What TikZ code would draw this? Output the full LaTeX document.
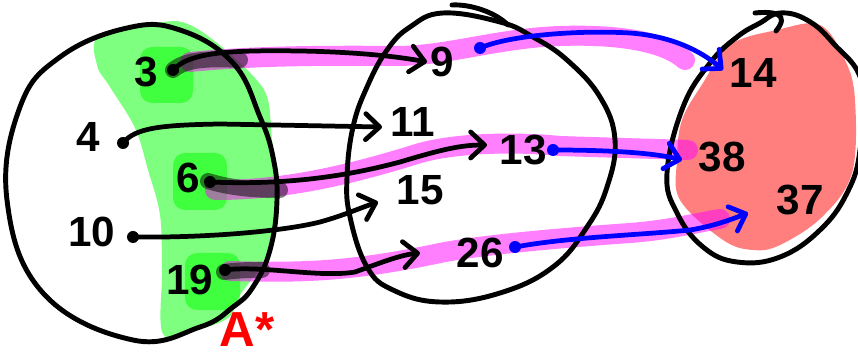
\documentclass[tikz,border=0pt]{standalone}
\usepackage{fontspec}
\setmainfont{Liberation Sans}
\usetikzlibrary{arrows.meta}
\definecolor{pk}{RGB}{255,0,255}
\definecolor{gr}{RGB}{0,255,0}
\definecolor{rd}{RGB}{255,0,0}
\definecolor{bl}{RGB}{0,0,255}
\begin{document}
\begin{tikzpicture}[x=0.01cm,y=-0.01cm,
  lbl/.style={font=\fontsize{12}{14}\selectfont\bfseries, inner sep=0},
  dotb/.style={circle, fill=black, inner sep=0, minimum size=0.12cm},
  dotbl/.style={circle, fill=bl, inner sep=0, minimum size=0.12cm},
  ring/.style={draw=black, line width=1.4pt, line cap=round, line join=round},
  pen/.style={line width=1.35pt, line cap=round, line join=round},
  arr/.style={pen, -{Straight Barb[length=0.14cm,width=0.26cm,round]}},
  barr/.style={arr, draw=bl},
  hlpink/.style={draw=pk, opacity=0.5, line width=0.2cm, line cap=round},
  hlgrey/.style={draw=black, opacity=0.5, line width=0.16cm, line cap=round},
]
\useasboundingbox (0,0) rectangle (858,355);

% green region A*
\fill[gr, opacity=0.5] plot[smooth cycle, tension=0.6] coordinates {(100,35) (163,22) (190,25) (222,47) (255,78) (268,100) (272,140) (278,180) (274,220) (263,262) (240,295) (228,318) (195,330) (163,334) (162,270) (160,215) (148,170) (135,128) (110,87) (97,65)};
\fill[gr, opacity=0.5, rounded corners=0.12cm] (140,47) rectangle (193,103);
\fill[gr, opacity=0.5, rounded corners=0.12cm] (173,153) rectangle (227,210);
\fill[gr, opacity=0.5, rounded corners=0.12cm] (185,253) rectangle (240,310);

% red region
\fill[rd, opacity=0.5] plot[smooth cycle, tension=0.6] coordinates {(730,45) (777,30) (820,25) (845,60) (855,100) (852,173) (822,217) (780,245) (753,250) (723,240) (680,200) (677,160) (682,120) (703,83)};

% pink highlights
\draw[hlpink] (190,62) .. controls (240,57) and (300,55) .. (400,56) .. controls (450,55) and (500,38) .. (560,36) .. controls (620,34) and (665,42) .. (685,60);
\draw[hlpink] (215,190) .. controls (280,190) and (340,178) .. (420,153) .. controls (460,142) and (520,142) .. (560,146) .. controls (620,148) and (660,149) .. (688,150);
\draw[hlpink] (230,271) .. controls (300,273) and (350,272) .. (440,253) .. controls (480,245) and (560,238) .. (630,233) .. controls (670,230) and (700,222) .. (720,219);

% grey highlights
\draw[hlgrey] (173,70) .. controls (185,60) and (205,58) .. (240,60);
\draw[hlgrey] (208,181) .. controls (230,188) and (255,190) .. (280,190);
\draw[hlgrey] (224,272) .. controls (240,270) and (250,270) .. (262,270);

% set outlines
\draw[ring] plot[smooth cycle, tension=0.7] coordinates {(127,28) (180,30) (233,63) (260,117) (273,157) (277,200) (270,250) (253,287) (233,307) (200,327) (133,340) (43,293) (7,200) (20,107) (60,57)};
\draw[ring] plot[smooth cycle, tension=0.7] coordinates {(443,13) (500,22) (533,37) (567,60) (600,97) (615,140) (607,187) (587,227) (553,267) (500,293) (440,302) (393,290) (367,267) (350,217) (347,177) (353,127) (367,87) (387,50) (410,27)};
\draw[ring] (452,5) .. controls (470,4) and (495,12) .. (508,25);
\draw[ring] plot[smooth cycle, tension=0.7] coordinates {(760,23) (737,37) (710,63) (683,107) (667,173) (677,213) (703,247) (737,262) (780,257) (820,230) (847,193) (860,150) (862,83) (833,43) (807,20) (780,13)};
\draw[ring] (755,13) .. controls (775,11) and (790,14) .. (776,31);

% dots
\node[dotb] (d3) at (173,70) {};
\node[dotb] (d4) at (123,143) {};
\node[dotb] (d6) at (210,182) {};
\node[dotb] (d10) at (133,237) {};
\node[dotb] (d19) at (225,270) {};
\node[dotbl] (b9) at (480,48) {};
\node[dotbl] (b13) at (553,150) {};
\node[dotbl] (b26) at (515,247) {};

% arrow targets
\coordinate (t9) at (427,62);
\coordinate (t11) at (382,127);
\coordinate (t13) at (487,145);
\coordinate (t15) at (378,202);
\coordinate (t26) at (420,253);
\coordinate (t14) at (723,70);
\coordinate (t38) at (682,160);
\coordinate (t37) at (748,213);

% black arrows
\draw[arr] (d3.center) .. controls (190,52) and (230,50) .. (300,51) .. controls (360,52) and (400,57) .. (t9);
\draw[arr] (d4.center) .. controls (135,128) and (160,125) .. (220,124) -- (t11);
\draw[arr] (d6.center) .. controls (280,185) and (340,178) .. (400,162) .. controls (440,150) and (460,145) .. (t13);
\draw[arr] (d10.center) .. controls (200,238) and (280,232) .. (320,222) .. controls (345,215) and (360,208) .. (t15);
\draw[arr] (d19.center) .. controls (260,265) and (320,278) .. (355,272) .. controls (380,263) and (400,255) .. (t26);

% blue arrows
\draw[barr] (b9.center) .. controls (510,35) and (580,30) .. (630,33) .. controls (670,36) and (700,50) .. (t14);
\draw[barr] (b13.center) .. controls (600,150) and (650,152) .. (t38);
\draw[barr] (b26.center) .. controls (570,237) and (640,235) .. (690,230) .. controls (715,226) and (735,218) .. (t37);

% labels
\node[lbl] (n3) at (146,72) {3};
\node[lbl] (n4) at (88,137) {4};
\node[lbl] (n6) at (188,178) {6};
\node[lbl] (n10) at (92,232) {10};
\node[lbl] (n19) at (190,280) {19};
\node[lbl] (n9) at (442,62) {9};
\node[lbl] (n11) at (413,122) {11};
\node[lbl] (n13) at (523,150) {13};
\node[lbl] (n15) at (420,190) {15};
\node[lbl] (n26) at (480,253) {26};
\node[lbl] (n14) at (753,73) {14};
\node[lbl] (n38) at (722,157) {38};
\node[lbl] (n37) at (800,200) {37};
\node[lbl, text=rd, font=\fontsize{14}{16}\selectfont\bfseries] (astar) at (247,330) {A*};
\end{tikzpicture}
\end{document}
